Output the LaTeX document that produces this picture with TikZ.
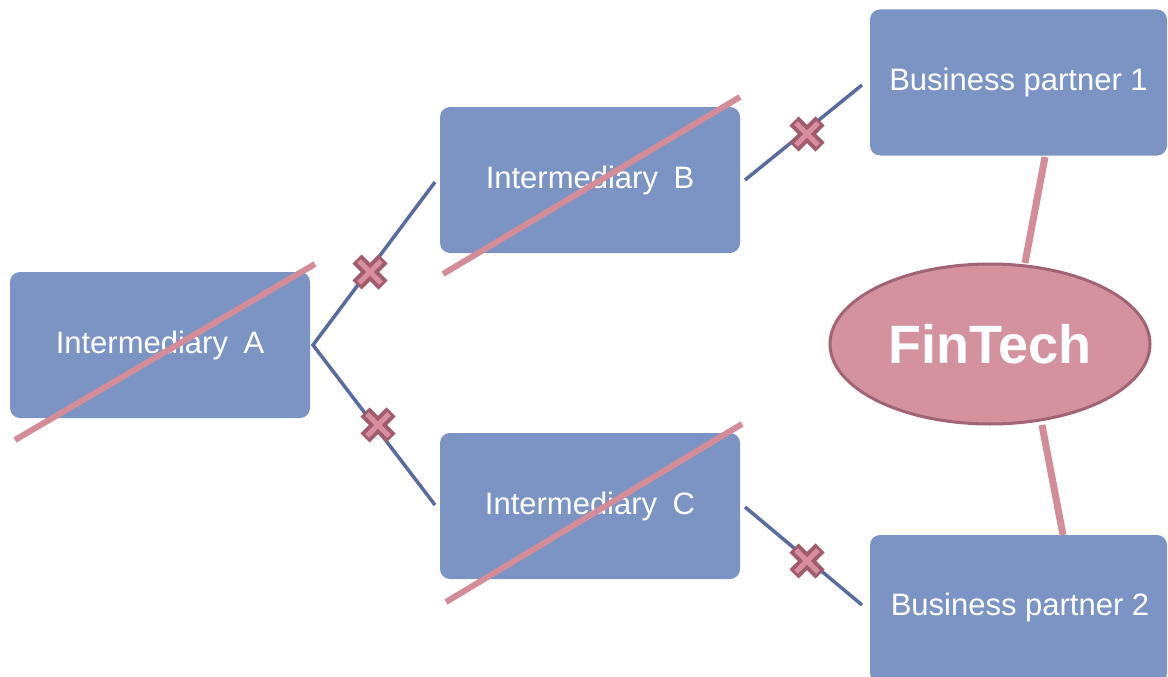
\documentclass[tikz,border=0pt]{standalone}
\usepackage{fontspec}
\setmainfont{Liberation Sans}
\usetikzlibrary{shapes.geometric,calc}
\definecolor{boxfill}{RGB}{123,148,196}
\definecolor{linkblue}{RGB}{88,108,160}
\definecolor{strikepink}{RGB}{212,140,152}
\definecolor{xdark}{RGB}{160,92,108}
\definecolor{xlight}{RGB}{216,142,158}
\definecolor{ellfill}{RGB}{212,146,158}
\definecolor{ellborder}{RGB}{160,100,115}
\tikzset{
  party/.style={rectangle, rounded corners=10pt, fill=boxfill, text=white,
    minimum width=300pt, minimum height=146pt, inner sep=0pt,
    font=\fontsize{31}{36}\selectfont},
  link/.style={draw=linkblue, line width=3.5pt},
  strike/.style={draw=strikepink, line width=6pt},
  tie/.style={draw=strikepink, line width=7pt},
  xmarkout/.style={draw=xdark, line width=13pt},
  xmarkin/.style={draw=xlight, line width=5pt},
}
\newcommand{\crossat}[1]{%
  \draw[xmarkout] ($(#1)+(-13,-13)$) -- ($(#1)+(13,13)$);
  \draw[xmarkout] ($(#1)+(-13,13)$) -- ($(#1)+(13,-13)$);
  \draw[xmarkin] ($(#1)+(-11,-11)$) -- ($(#1)+(11,11)$);
  \draw[xmarkin] ($(#1)+(-11,11)$) -- ($(#1)+(11,-11)$);
}
\begin{document}
\begin{tikzpicture}[x=1pt,y=-1pt]
\useasboundingbox (0,0) rectangle (1168,677);
\clip (0,0) rectangle (1168,677);
\fill[white] (0,0) rectangle (1168,677);

% boxes
\node[party] (A) at (160,345) {\raisebox{-2pt}{Intermediary\hspace{0.5em}A}};
\node[party] (B) at (590,180) {\raisebox{-2pt}{Intermediary\hspace{0.5em}B}};
\node[party] (C) at (590,506) {\raisebox{-2pt}{Intermediary\hspace{0.5em}C}};
\node[party, minimum width=297pt] (P1) at (1018.5,82.5) {Business partner 1};
\node[party, minimum width=297pt, minimum height=148pt] (P2) at (1018.5,609) {};
\node[text=white, font=\fontsize{31}{36}\selectfont] (P2t) at (1020,607) {Business partner 2};

% fintech
\node[ellipse, fill=ellfill, draw=ellborder, line width=3pt,
  minimum width=320pt, minimum height=160pt, inner sep=0pt, text=white,
  font=\bfseries\fontsize{54}{60}\selectfont] (F) at (990,344) {FinTech};

% blue connector end points
\coordinate (Aout) at (313,345);
\coordinate (Bin) at (435,182);
\coordinate (Cin) at (435,505);
\coordinate (Bout) at (745,180);
\coordinate (P1in) at (862,85);
\coordinate (Cout) at (745,507);
\coordinate (P2in) at (862,605);

\draw[link] (Bin) -- (Aout) -- (Cin);
\draw[link] (Bout) -- (P1in);
\draw[link] (Cout) -- (P2in);

% pink ties
\coordinate (P1b) at (1045,157);
\coordinate (Ft) at (1025,263);
\coordinate (Fb) at (1042,425);
\coordinate (P2t2) at (1063,535);
\draw[tie] (P1b) -- (Ft);
\draw[tie] (Fb) -- (P2t2);

% strike lines
\coordinate (sA1) at (15,440); \coordinate (sA2) at (315,264);
\coordinate (sB1) at (443,274); \coordinate (sB2) at (740,97);
\coordinate (sC1) at (446,602); \coordinate (sC2) at (742,424);
\draw[strike] (sA1) -- (sA2);
\draw[strike] (sB1) -- (sB2);
\draw[strike] (sC1) -- (sC2);

% crosses
\coordinate (x1) at (370,272);
\coordinate (x2) at (378,425);
\coordinate (x3) at (807,134);
\coordinate (x4) at (807,561);
\crossat{x1}
\crossat{x2}
\crossat{x3}
\crossat{x4}
\end{tikzpicture}
\end{document}
